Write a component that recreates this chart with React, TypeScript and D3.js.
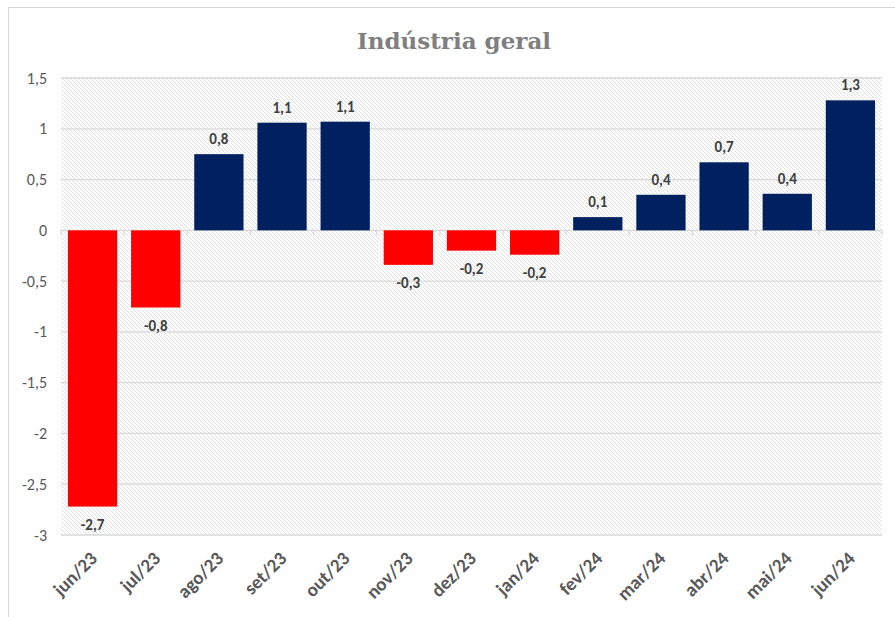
import React from "react";
import * as d3 from "d3";

const categories = ["jun/23","jul/23","ago/23","set/23","out/23","nov/23","dez/23","jan/24","fev/24","mar/24","abr/24","mai/24","jun/24"];
const values = [-2.72, -0.76, 0.75, 1.06, 1.07, -0.34, -0.2, -0.24, 0.13, 0.35, 0.67, 0.36, 1.28];
const labels = ["-2,7","-0,8","0,8","1,1","1,1","-0,3","-0,2","-0,2","0,1","0,4","0,7","0,4","1,3"];
const yTicks = [1.5, 1, 0.5, 0, -0.5, -1, -1.5, -2, -2.5, -3];
const title = "Indústria geral";

const W = 895, H = 617;
const left = 61, right = 882, top = 78, bottom = 535;
const font = "Calibri, Carlito, Lato, 'Open Sans', sans-serif";

export default function App() {
  const x = d3.scaleBand<string>().domain(categories).range([left, right]).paddingInner(0.22).paddingOuter(0.11);
  const y = d3.scaleLinear().domain([-3, 1.5]).range([bottom, top]);
  const step = (right - left) / categories.length;
  const fmt = (v: number) => String(v).replace(".", ",");
  return (
    <svg width={W} height={H} style={{ position: "absolute", left: 0, top: 0, background: "#fff" }}>
      <defs>
        <pattern id="hatch" width="4" height="4" patternUnits="userSpaceOnUse">
          <rect width="4" height="4" fill="#ffffff" />
          <path d="M-1,-1 L5,5 M-1,3 L1,5 M3,-1 L5,1" stroke="#dddddd" strokeWidth="0.9" />
        </pattern>
      </defs>
      <rect x={8.5} y={7.5} width={W + 10} height={H + 10} fill="#fff" stroke="#d9d9d9" strokeWidth={1} />
      <text x={454} y={49} textAnchor="middle" fontFamily="'DejaVu Serif', serif" fontWeight="bold" fontSize={23} fill="#7f7f7f">{title}</text>
      <rect x={left} y={top} width={right - left} height={bottom - top} fill="url(#hatch)" />
      {yTicks.map((t) => (
        <g key={t}>
          <line x1={left} x2={right} y1={y(t)} y2={y(t)} stroke="#d9d9d9" strokeWidth={1.3} />
          <text x={47} y={y(t)} dy="0.35em" textAnchor="end" fontFamily={font} fontSize={16} fill="#595959">{fmt(t)}</text>
        </g>
      ))}
      {d3.range(categories.length + 1).map((i) => (
        <line key={i} x1={left + i * step} x2={left + i * step} y1={y(0)} y2={y(0) + 5} stroke="#d9d9d9" strokeWidth={1.3} />
      ))}
      {categories.map((c, i) => {
        const v = values[i];
        const bx = x(c)!;
        const y0 = y(Math.max(0, v));
        const y1 = y(Math.min(0, v));
        const cx = bx + x.bandwidth() / 2;
        return (
          <g key={c}>
            <rect x={bx} y={y0} width={x.bandwidth()} height={y1 - y0} fill={v < 0 ? "#ff0000" : "#002060"} />
            <text x={cx} y={v >= 0 ? y0 - 10 : y1 + 23} textAnchor="middle" fontFamily={font} fontWeight="bold" fontSize={15} fill="#404040">{labels[i]}</text>
            <text transform={`translate(${cx + 1},${bottom + 20}) rotate(-45)`} textAnchor="end" dy="0.35em" fontFamily={font} fontWeight="bold" fontSize={19} fill="#595959">{c}</text>
          </g>
        );
      })}
    </svg>
  );
}
